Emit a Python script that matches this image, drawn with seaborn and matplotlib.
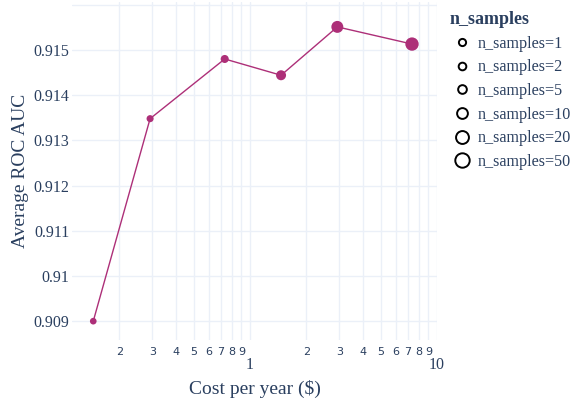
import numpy as np
import pandas as pd
import seaborn as sns
import matplotlib.pyplot as plt
from matplotlib.lines import Line2D

# data
n_samples = [1, 2, 5, 10, 20, 50]
cost = [0.145, 0.292, 0.732, 1.465, 2.93, 7.35]
auc = [0.9090, 0.91348, 0.91480, 0.91444, 0.91551, 0.91513]

df = pd.DataFrame({"cost": cost, "auc": auc, "n_samples": n_samples})

color = "#AD2F78"
text_color = "#2a3f5f"
grid_color = "#EBF0F8"
marker_d = {1: 4.8, 2: 5.1, 5: 5.8, 10: 7.2, 20: 8.6, 50: 9.6}

sns.set_style("white")
plt.rcParams["font.family"] = ["Liberation Serif", "DejaVu Serif"]

fig = plt.figure(figsize=(5.72, 4.04), dpi=100)
ax = fig.add_axes([0.126, 0.158, 0.638, 0.837])

sns.lineplot(data=df, x="cost", y="auc", color=color, linewidth=1, ax=ax,
             legend=False, zorder=3)
sns.scatterplot(data=df, x="cost", y="auc", size="n_samples",
                sizes={k: v ** 2 for k, v in marker_d.items()},
                color=color, edgecolor="none", legend=False, ax=ax, zorder=4)

ax.set_xscale("log")
ax.set_xlim(0.1117, 10.0)
ax.set_ylim(0.90858, 0.91606)

# y ticks
yt = [0.909, 0.910, 0.911, 0.912, 0.913, 0.914, 0.915]
ax.set_yticks(yt)
ax.set_yticklabels([("%.3f" % v).rstrip("0") for v in yt], color=text_color, fontsize=11.5)

# x ticks: majors at 1 and 10, minors with small labels
ax.set_xticks([1, 10])
ax.set_xticklabels(["1", "10"], color=text_color, fontsize=11.5)
minor = [m * d for d in (0.1, 1) for m in range(2, 10)]
ax.set_xticks(minor, minor=True)
ax.set_xticklabels([str(m) for m in range(2, 10)] * 2, minor=True,
                   color=text_color, fontsize=8, family="DejaVu Sans")
ax.tick_params(axis="x", which="major", length=0, pad=12)
ax.tick_params(axis="x", which="minor", length=0, pad=5)
ax.tick_params(axis="y", length=0, pad=2)

ax.grid(True, which="both", axis="x", color=grid_color, linewidth=1)
ax.grid(True, which="major", axis="y", color=grid_color, linewidth=1)
ax.axhline(0.916, color=grid_color, linewidth=1, zorder=0)
for s in ax.spines.values():
    s.set_visible(False)

ax.set_xlabel("Cost per year ($)", color=text_color, fontsize=14, labelpad=5)
ax.set_ylabel("Average ROC AUC", color=text_color, fontsize=14, labelpad=3)

handles = [Line2D([], [], linestyle="none", marker="o", markersize=marker_d[n] * 1.08,
                  markerfacecolor="white", markeredgecolor="black", markeredgewidth=1.4)
           for n in n_samples]
leg = fig.legend(handles, ["n_samples=%d" % n for n in n_samples],
                 title="n_samples", loc="upper left", bbox_to_anchor=(0.7755, 0.988),
                 frameon=False, fontsize=11.6, handletextpad=0.25, labelspacing=0.47,
                 borderaxespad=0, alignment="left", handlelength=1.48)
plt.setp(leg.get_title(), fontweight="bold", color=text_color, fontsize=13)
for t in leg.get_texts():
    t.set_color(text_color)

fig.savefig("out.png", dpi=100)
